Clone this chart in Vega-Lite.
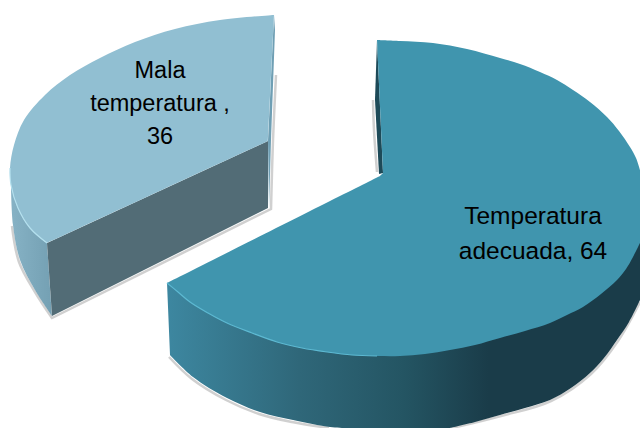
{
  "$schema": "https://vega.github.io/schema/vega-lite/v6.json",
  "width": 640,
  "height": 428,
  "padding": 0,
  "autosize": {"type": "none"},
  "background": "white",
  "config": {"view": {"stroke": null}},
  "datasets": {
    "rebordeGrande": [
      {"i":1,"x":167,"y":283},{"i":2,"x":167,"y":283},{"i":3,"x":380,"y":300},{"i":4,"x":380,"y":300},{"i":5,"x":640,"y":200},{"i":6,"x":640,"y":200},{"i":7,"x":640,"y":300},{"i":8,"x":640,"y":300},{"i":9,"x":629,"y":322},{"i":10,"x":617,"y":340},{"i":11,"x":604,"y":358},{"i":12,"x":590,"y":373},{"i":13,"x":571,"y":388},{"i":14,"x":550,"y":400},{"i":15,"x":525,"y":408},{"i":16,"x":500,"y":415},{"i":17,"x":475,"y":422},{"i":18,"x":450,"y":428},{"i":19,"x":450,"y":428},{"i":20,"x":345,"y":428},{"i":21,"x":345,"y":428},{"i":22,"x":330,"y":427},{"i":23,"x":293,"y":420},{"i":24,"x":260,"y":412},{"i":25,"x":227,"y":398},{"i":26,"x":193,"y":377},{"i":27,"x":170,"y":355},{"i":28,"x":170,"y":355}
    ],
    "caraGrande": [
      {"i":1,"x":377,"y":40},{"i":2,"x":377,"y":40},{"i":3,"x":400,"y":41},{"i":4,"x":433,"y":43},{"i":5,"x":467,"y":49},{"i":6,"x":500,"y":58},{"i":7,"x":520,"y":64},{"i":8,"x":540,"y":72},{"i":9,"x":557,"y":80},{"i":10,"x":573,"y":90},{"i":11,"x":590,"y":102},{"i":12,"x":607,"y":117},{"i":13,"x":619,"y":131},{"i":14,"x":630,"y":147},{"i":15,"x":636,"y":158},{"i":16,"x":640,"y":170},{"i":17,"x":640,"y":170},{"i":18,"x":640,"y":243},{"i":19,"x":640,"y":243},{"i":20,"x":633,"y":257},{"i":21,"x":626,"y":269},{"i":22,"x":617,"y":280},{"i":23,"x":601,"y":294},{"i":24,"x":583,"y":307},{"i":25,"x":567,"y":315},{"i":26,"x":550,"y":323},{"i":27,"x":525,"y":331},{"i":28,"x":500,"y":338},{"i":29,"x":475,"y":345},{"i":30,"x":450,"y":350},{"i":31,"x":425,"y":354},{"i":32,"x":400,"y":356},{"i":33,"x":377,"y":356},{"i":34,"x":352,"y":355},{"i":35,"x":327,"y":352},{"i":36,"x":302,"y":348},{"i":37,"x":277,"y":342},{"i":38,"x":252,"y":333},{"i":39,"x":227,"y":323},{"i":40,"x":208,"y":313},{"i":41,"x":190,"y":302},{"i":42,"x":178,"y":292},{"i":43,"x":167,"y":283},{"i":44,"x":167,"y":283},{"i":45,"x":380,"y":176},{"i":46,"x":380,"y":176},{"i":47,"x":383,"y":173},{"i":48,"x":383,"y":173}
    ],
    "filoGrande": [
      {"i":1,"x":375,"y":100},{"i":2,"x":375,"y":100},{"i":3,"x":377,"y":40},{"i":4,"x":377,"y":40},{"i":5,"x":383,"y":173},{"i":6,"x":383,"y":173},{"i":7,"x":379,"y":174},{"i":8,"x":379,"y":174}
    ],
    "caraChica": [
      {"i":1,"x":274,"y":15},{"i":2,"x":274,"y":15},{"i":3,"x":268,"y":141},{"i":4,"x":268,"y":141},{"i":5,"x":47,"y":243},{"i":6,"x":47,"y":243},{"i":7,"x":30,"y":228},{"i":8,"x":18,"y":208},{"i":9,"x":11,"y":185},{"i":10,"x":10,"y":168},{"i":11,"x":14,"y":145},{"i":12,"x":24,"y":120},{"i":13,"x":45,"y":95},{"i":14,"x":70,"y":75},{"i":15,"x":100,"y":58},{"i":16,"x":135,"y":42},{"i":17,"x":175,"y":29},{"i":18,"x":220,"y":20},{"i":19,"x":274,"y":15},{"i":20,"x":274,"y":15}
    ],
    "frenteChico": [
      {"i":1,"x":47,"y":243},{"i":2,"x":268,"y":141},{"i":3,"x":268,"y":208},{"i":4,"x":52,"y":316}
    ],
    "rebordeChico": [
      {"i":1,"x":11,"y":185},{"i":2,"x":18,"y":208},{"i":3,"x":30,"y":228},{"i":4,"x":47,"y":243},{"i":5,"x":47,"y":243},{"i":6,"x":52,"y":316},{"i":7,"x":52,"y":316},{"i":8,"x":35,"y":290},{"i":9,"x":20,"y":260},{"i":10,"x":13,"y":225},{"i":11,"x":11,"y":185}
    ],
    "filoChico": [
      {"i":1,"x":274,"y":15},{"i":2,"x":275,"y":30},{"i":3,"x":271,"y":140},{"i":4,"x":269,"y":208},{"i":5,"x":268,"y":141}
    ],
    "sombraChica": [
      {"i":1,"x":276,"y":75},{"i":2,"x":273,"y":140},{"i":3,"x":271,"y":209},{"i":4,"x":271,"y":209},{"i":5,"x":52,"y":318},{"i":6,"x":52,"y":318},{"i":7,"x":35,"y":292},{"i":8,"x":19,"y":262},{"i":9,"x":12,"y":226}
    ],
    "sombraGrande": [
      {"i":1,"x":169,"y":357},{"i":2,"x":192,"y":379},{"i":3,"x":226,"y":400},{"i":4,"x":259,"y":414},{"i":5,"x":292,"y":422},{"i":6,"x":329,"y":428}
    ],
    "sombraGrandeDerecha": [
      {"i":1,"x":452,"y":428},{"i":2,"x":501,"y":416},{"i":3,"x":551,"y":401},{"i":4,"x":591,"y":374},{"i":5,"x":618,"y":341},{"i":6,"x":640,"y":302}
    ],
    "sombraFilo": [
      {"i":1,"x":373,"y":100},{"i":2,"x":374,"y":130},{"i":3,"x":377,"y":172}
    ],
    "brilloGrande": [
      {"i":1,"x":167,"y":283},{"i":2,"x":178,"y":292},{"i":3,"x":190,"y":302},{"i":4,"x":208,"y":313},{"i":5,"x":227,"y":323},{"i":6,"x":252,"y":333},{"i":7,"x":277,"y":342},{"i":8,"x":302,"y":348},{"i":9,"x":327,"y":352},{"i":10,"x":352,"y":355},{"i":11,"x":377,"y":356}
    ],
    "brilloChico": [
      {"i":1,"x":10,"y":168},{"i":2,"x":11,"y":185},{"i":3,"x":18,"y":208},{"i":4,"x":30,"y":228},{"i":5,"x":47,"y":243}
    ],
    "etiquetas": [
      {"categoria":"Mala temperatura","valor":36,"texto":"Mala\ntemperatura ,\n36","x":160,"y":78},
      {"categoria":"Temperatura adecuada","valor":64,"texto":"Temperatura\nadecuada, 64","x":533,"y":224}
    ]
  },
  "encoding": {
    "x": {"field":"x","type":"quantitative","scale":{"domain":[0,640],"nice":false,"zero":false},"axis":null},
    "y": {"field":"y","type":"quantitative","scale":{"domain":[428,0],"nice":false,"zero":false},"axis":null},
    "order": {"field":"i","type":"quantitative"}
  },
  "layer": [
    {"data":{"name":"sombraChica"},"mark":{"type":"line","interpolate":"catmull-rom","stroke":"#8a8a8a","strokeWidth":2.5,"opacity":0.4,"clip":true}},
    {"data":{"name":"sombraGrande"},"mark":{"type":"line","interpolate":"catmull-rom","stroke":"#8a8a8a","strokeWidth":2.5,"opacity":0.4,"clip":true}},
    {"data":{"name":"sombraGrandeDerecha"},"mark":{"type":"line","interpolate":"catmull-rom","stroke":"#8a8a8a","strokeWidth":2.5,"opacity":0.4,"clip":true}},
    {"data":{"name":"sombraFilo"},"mark":{"type":"line","interpolate":"catmull-rom","stroke":"#8a8a8a","strokeWidth":2.5,"opacity":0.4,"clip":true}},
    {"data":{"name":"rebordeChico"},"mark":{"type":"line","interpolate":"catmull-rom","fill":{"gradient":"linear","x1":0,"y1":0,"x2":1,"y2":0,"stops":[{"offset":0,"color":"#86b2c5"},{"offset":1,"color":"#74a0b3"}]},"strokeWidth":0,"clip":true}},
    {"data":{"name":"frenteChico"},"mark":{"type":"line","fill":"#526c76","strokeWidth":0,"clip":true}},
    {"data":{"name":"filoChico"},"mark":{"type":"line","fill":"#6f9fb4","strokeWidth":0,"clip":true}},
    {"data":{"name":"caraChica"},"mark":{"type":"line","interpolate":"catmull-rom","fill":"#91bfd2","strokeWidth":0,"clip":true}},
    {"data":{"name":"brilloChico"},"mark":{"type":"line","interpolate":"catmull-rom","stroke":"#b4e0ee","strokeWidth":1.2,"clip":true}},
    {"data":{"name":"rebordeGrande"},"mark":{"type":"line","interpolate":"catmull-rom","fill":{"gradient":"linear","x1":0,"y1":0,"x2":1,"y2":0,"stops":[{"offset":0,"color":"#3d87a0"},{"offset":0.28,"color":"#2f6779"},{"offset":0.5,"color":"#245563"},{"offset":0.68,"color":"#1a3c49"},{"offset":1,"color":"#1a3c49"}]},"strokeWidth":0,"clip":true}},
    {"data":{"name":"filoGrande"},"mark":{"type":"line","interpolate":"catmull-rom","fill":"#1d4a58","strokeWidth":0,"clip":true}},
    {"data":{"name":"caraGrande"},"mark":{"type":"line","interpolate":"catmull-rom","fill":"#4095ae","strokeWidth":0,"clip":true}},
    {"data":{"name":"brilloGrande"},"mark":{"type":"line","interpolate":"catmull-rom","stroke":"#5db9d2","strokeWidth":1.2,"clip":true}},
    {
      "data":{"name":"etiquetas"},
      "transform":[{"filter":"datum.valor == 36"}],
      "mark":{"type":"text","font":"Liberation Sans","fontSize":23.5,"color":"#000000","align":"center","baseline":"alphabetic","lineBreak":"\n","lineHeight":33},
      "encoding":{"text":{"field":"texto","type":"nominal"},"order":{"value":null}}
    },
    {
      "data":{"name":"etiquetas"},
      "transform":[{"filter":"datum.valor == 64"}],
      "mark":{"type":"text","font":"Liberation Sans","fontSize":24.5,"color":"#000000","align":"center","baseline":"alphabetic","lineBreak":"\n","lineHeight":35},
      "encoding":{"text":{"field":"texto","type":"nominal"},"order":{"value":null}}
    }
  ]
}
